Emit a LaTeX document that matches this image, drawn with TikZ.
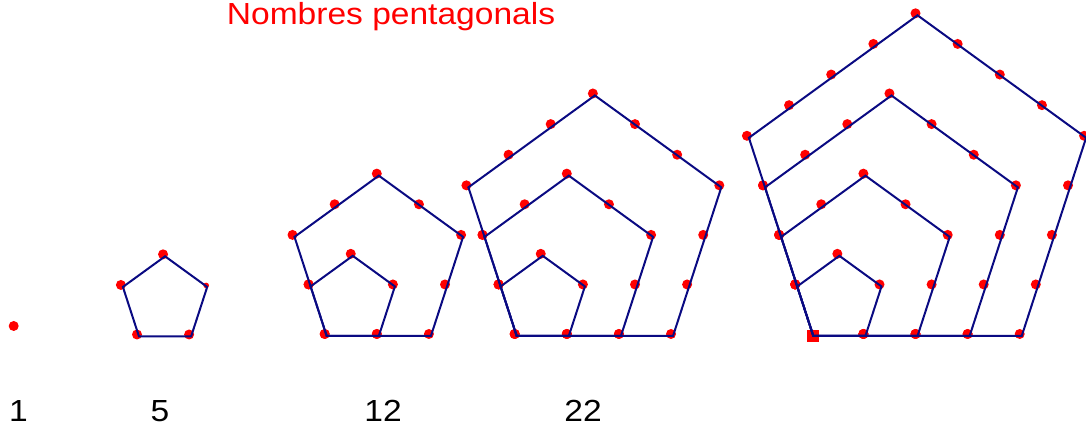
\documentclass[tikz,border=0pt]{standalone}
\usepackage{fontspec}
\setmainfont{Liberation Sans}[FakeStretch=1.1]
\usetikzlibrary{calc}
\definecolor{edgeblue}{RGB}{10,10,130}
\newcommand\pentagon[4]{% #1 name, #2 x, #3 y, #4 side in units
  \pgfmathsetmacro\sidelen{#4*52.1}
  \coordinate (#1v0) at (#2,#3);
  \path (#1v0) ++(0:\sidelen) coordinate (#1v1)
               ++(72:\sidelen) coordinate (#1v2)
               ++(144:\sidelen) coordinate (#1v3)
               ++(216:\sidelen) coordinate (#1v4);
  \pgfmathtruncatemacro\lastk{#4-1}
  \foreach \e/\a in {0/0,1/72,2/144,3/216,4/288}{
    \foreach \k in {0,...,\lastk}{
      \fill[dotred] ($(#1v\e)+(\a:\k*52.1)+(-2,2)$) circle (5);
    }
  }
}
\newcommand\pentedges[1]{%
  \draw[edge] (#1v0) -- (#1v1) -- (#1v2) -- (#1v3) -- (#1v4) -- cycle;
}
\begin{document}
\begin{tikzpicture}[x=1pt,y=1pt,
  edge/.style={draw=edgeblue, line width=2pt, line join=miter},
  dotred/.style={red},
  lbl/.style={font=\fontsize{30.5}{36}\selectfont, text=black, inner sep=0pt, anchor=base},
  title/.style={font=\fontsize{30.5}{36}\selectfont, text=red, inner sep=0pt, anchor=base}]
\useasboundingbox (0,0) rectangle (1086,427);
\clip (0,0) rectangle (1086,427);
\node[title] (title) at (391,402) {Nombres pentagonals};
% 1
\fill[dotred] (13.7,101) circle (5);
% 5
\coordinate (av0) at (139,90.5);
\path (av0) ++(0:52.1) coordinate (av1) ++(72:52.1) coordinate (av2)
      ++(144:52.1) coordinate (av3) ++(216:52.1) coordinate (av4);
\fill[dotred] ($(av0)+(-2,2)$) circle (5);
\fill[dotred] ($(av1)+(-2,2)$) circle (5);
\fill[dotred] ($(av2)+(-1,1.5)$) circle (2.8);
\fill[dotred] ($(av3)+(-2,2)$) circle (5);
\fill[dotred] ($(av4)+(-2,2)$) circle (5);
\pentedges{a}
% 12
\pentagon{ba}{326.7}{91}{1}
\pentagon{bb}{326.7}{91}{2}
\pentedges{ba}\pentedges{bb}
% 22
\pentagon{ca}{516.7}{91}{1}
\pentagon{cb}{516.7}{91}{2}
\pentagon{cc}{516.7}{91}{3}
\pentedges{ca}\pentedges{cb}\pentedges{cc}
% 35
\pentagon{da}{813.3}{91}{1}
\pentagon{db}{813.3}{91}{2}
\pentagon{dc}{813.3}{91}{3}
\pentagon{dd}{813.3}{91}{4}
\fill[white] ($(dav0)+(-7.5,-7.5)$) rectangle ($(dav0)+(7.5,7.5)$);
\fill[dotred] ($(dav0)+(-5.9,-5.9)$) rectangle ($(dav0)+(5.9,5.9)$);
\pentedges{da}\pentedges{db}\pentedges{dc}\pentedges{dd}
% labels
\node[lbl] (l1) at (18.5,5) {1};
\node[lbl] (l5) at (160,5) {5};
\node[lbl] (l12) at (383,5) {12};
\node[lbl] (l22) at (583,5) {22};
\end{tikzpicture}
\end{document}
